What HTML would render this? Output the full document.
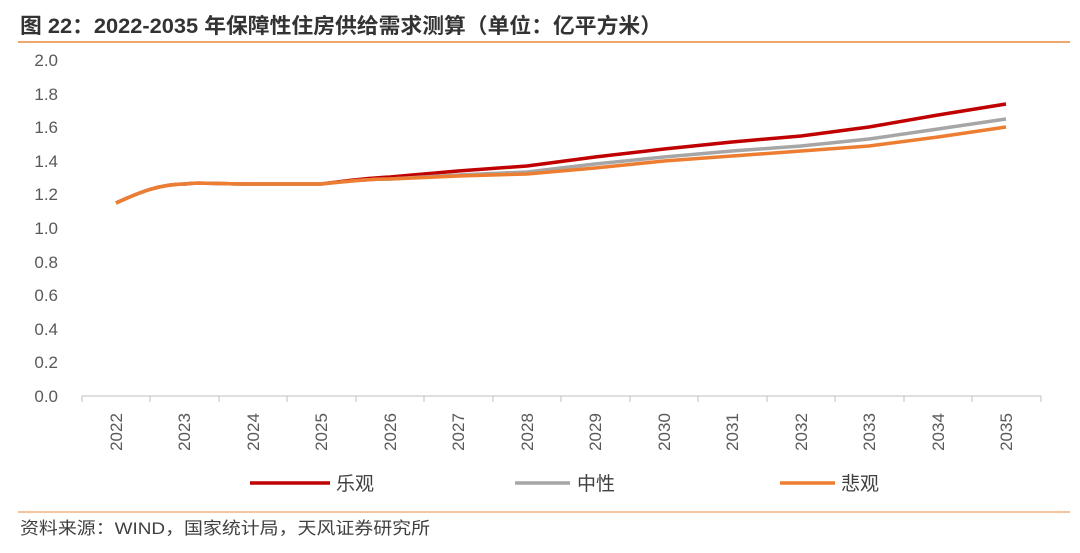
<!DOCTYPE html>
<html><head><meta charset="utf-8"><style>
body{margin:0;background:#fff;}
svg text{font-family:"Liberation Sans","Noto Sans CJK SC",sans-serif;}
</style></head><body>
<svg width="1080" height="548" xmlns="http://www.w3.org/2000/svg">
<text x="20" y="33" font-size="21" font-weight="bold" fill="#333" textLength="642" lengthAdjust="spacingAndGlyphs">图 22：2022-2035 年保障性住房供给需求测算（单位：亿平方米）</text>
<line x1="18" y1="42" x2="1070" y2="42" stroke="#e8893a" stroke-width="1.5"/>
<g font-size="17" fill="#595959" text-anchor="end">
<text x="58" y="402">0.0</text><text x="58" y="368">0.2</text><text x="58" y="335">0.4</text><text x="58" y="301">0.6</text><text x="58" y="268">0.8</text><text x="58" y="234">1.0</text><text x="58" y="200">1.2</text><text x="58" y="167">1.4</text><text x="58" y="133">1.6</text><text x="58" y="100">1.8</text><text x="58" y="66">2.0</text>
</g>
<line x1="82" y1="396" x2="1041" y2="396" stroke="#bfbfbf"/>
<g stroke="#bfbfbf">
<line x1="82" y1="396" x2="82" y2="402"/><line x1="150" y1="396" x2="150" y2="402"/><line x1="219" y1="396" x2="219" y2="402"/><line x1="287" y1="396" x2="287" y2="402"/><line x1="356" y1="396" x2="356" y2="402"/><line x1="424" y1="396" x2="424" y2="402"/><line x1="493" y1="396" x2="493" y2="402"/><line x1="561" y1="396" x2="561" y2="402"/><line x1="630" y1="396" x2="630" y2="402"/><line x1="698" y1="396" x2="698" y2="402"/><line x1="767" y1="396" x2="767" y2="402"/><line x1="835" y1="396" x2="835" y2="402"/><line x1="904" y1="396" x2="904" y2="402"/><line x1="972" y1="396" x2="972" y2="402"/><line x1="1041" y1="396" x2="1041" y2="402"/>
</g>
<g font-size="17" fill="#595959" text-anchor="middle">
<text transform="translate(122,432) rotate(-90)">2022</text>
<text transform="translate(190,432) rotate(-90)">2023</text>
<text transform="translate(259,432) rotate(-90)">2024</text>
<text transform="translate(327,432) rotate(-90)">2025</text>
<text transform="translate(396,432) rotate(-90)">2026</text>
<text transform="translate(464,432) rotate(-90)">2027</text>
<text transform="translate(533,432) rotate(-90)">2028</text>
<text transform="translate(601,432) rotate(-90)">2029</text>
<text transform="translate(670,432) rotate(-90)">2030</text>
<text transform="translate(738,432) rotate(-90)">2031</text>
<text transform="translate(807,432) rotate(-90)">2032</text>
<text transform="translate(875,432) rotate(-90)">2033</text>
<text transform="translate(944,432) rotate(-90)">2034</text>
<text transform="translate(1012,432) rotate(-90)">2035</text>
</g>
<g fill="none" stroke-width="3.5" stroke-linejoin="round">
<path stroke="#c00000" d="M116,203 C140,192 160,184 185,184 C200,182 210,184 253,184 L321,184 C350,180 370,178 390,177 L458,171 L527,166 L595,157 L664,149 L732,142 L801,136 L869,127 L938,115 L1006,104"/>
<path stroke="#a6a6a6" d="M116,203 C140,192 160,184 185,184 C200,182 210,184 253,184 L321,184 C350,181 370,179 390,179 L458,175 L527,172 L595,164 L664,157 L732,151 L801,146 L869,139 L938,129 L1006,119"/>
<path stroke="#ed7d31" d="M116,203 C140,192 160,184 185,184 C200,182 210,184 253,184 L321,184 C350,181 370,179 390,179 L458,176 L527,174 L595,168 L664,161 L732,156 L801,151 L869,146 L938,137 L1006,127"/>
</g>
<line x1="250" y1="483" x2="330" y2="483" stroke="#c00000" stroke-width="3.5"/>
<text x="336" y="490" font-size="19" fill="#404040">乐观</text>
<line x1="515" y1="483" x2="570" y2="483" stroke="#a6a6a6" stroke-width="3.5"/>
<text x="577" y="490" font-size="19" fill="#404040">中性</text>
<line x1="780" y1="483" x2="835" y2="483" stroke="#ed7d31" stroke-width="3.5"/>
<text x="841" y="490" font-size="19" fill="#404040">悲观</text>
<line x1="18" y1="512" x2="1070" y2="512" stroke="#e8893a" stroke-width="1"/>
<text x="20" y="534" font-size="17" fill="#404040" textLength="410" lengthAdjust="spacingAndGlyphs">资料来源：WIND，国家统计局，天风证券研究所</text>
</svg>
</body></html>
